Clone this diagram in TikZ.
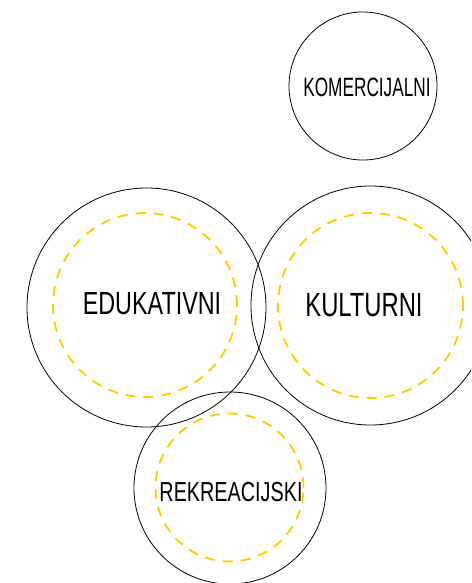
\documentclass[tikz,border=0pt]{standalone}
\usepackage{fontspec}
\usepackage{graphicx}
\usepackage{tikz}
\usetikzlibrary{positioning,calc}
\newfontfamily\zonafont{Liberation Sans}
\definecolor{zonaYellow}{RGB}{255,204,0}
\newcommand{\zonatxt}[2]{\scalebox{#1}[1]{#2}}
\tikzset{
  zona/outer/.style={draw=black, line width=0.8pt, circle, inner sep=0pt},
  zona/ring/.style={draw=zonaYellow, line width=1.8pt, circle, inner sep=0pt,
                    dash pattern=on 10pt off 8pt},
  zona/lbl/.style={font=\zonafont, inner sep=0pt, anchor=center},
}

\begin{document}
\begin{tikzpicture}[x=1pt, y=-1pt]
  \useasboundingbox (0,0) rectangle (471,583);
  \clip (0,0) rectangle (471,583);

  % ---------------- outer circles ----------------
  \node[zona/outer, minimum size=148pt] (komercijalni) at (363,86) {};
  \node[zona/outer, minimum size=239pt] (edukativni)   at (146.5,307.5) {};
  \node[zona/outer, minimum size=239pt] (kulturni)     at (370.5,305.5) {};
  \node[zona/outer, minimum size=192pt] (rekreacijski) at (230,488) {};

  % ---------------- dashed rings ----------------
  \node[zona/ring, minimum size=184pt] (eduring) at (145,305) {};
  \node[zona/ring, minimum size=185pt] (kulring) at (370.5,305.5) {};
  \node[zona/ring, minimum size=148pt] (rekring) at (229.5,487.5) {};

  % ---------------- labels ----------------
  \node[zona/lbl, font=\zonafont\fontsize{26.5pt}{28pt}\selectfont] (komlbl)
    at (367,87.5) {\zonatxt{0.65}{KOMERCIJALNI}};
  \node[zona/lbl, font=\zonafont\fontsize{32pt}{34pt}\selectfont] (edulbl)
    at (152,303.5) {\zonatxt{0.73}{EDUKATIVNI}};
  \node[zona/lbl, font=\zonafont\fontsize{33.5pt}{35pt}\selectfont] (kullbl)
    at (364,305) {\zonatxt{0.71}{KULTURNI}};
  \node[zona/lbl, font=\zonafont\fontsize{27.5pt}{29pt}\selectfont] (reklbl)
    at (231,492) {\zonatxt{0.72}{REKREACIJSKI}};

\end{tikzpicture}
\end{document}
